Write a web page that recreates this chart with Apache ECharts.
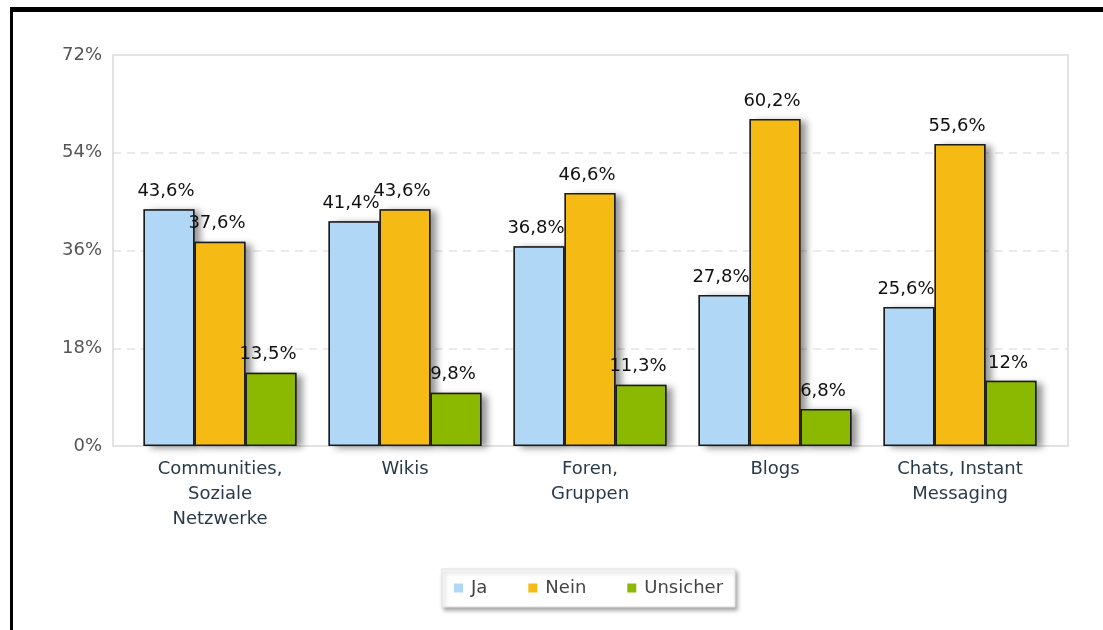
<!DOCTYPE html>
<html>
<head>
<meta charset="utf-8">
<script src="https://cdn.jsdelivr.net/npm/echarts@6/dist/echarts.min.js"></script>
<style>
  html, body { margin: 0; padding: 0; background: #fff; }
  #chart { width: 1103px; height: 630px; }
</style>
</head>
<body>
<div id="chart"></div>
<script>
// Survey answers per platform type (percent)
const categories = ['Communities,\nSoziale\nNetzwerke', 'Wikis', 'Foren,\nGruppen', 'Blogs', 'Chats, Instant\nMessaging'];
const seriesNames = ['Ja', 'Nein', 'Unsicher'];
const ja = [43.6, 41.4, 36.8, 27.8, 25.6];
const nein = [37.6, 43.6, 46.6, 60.2, 55.6];
const unsicher = [13.5, 9.8, 11.3, 6.8, 12];
const yTicks = { min: 0, max: 72, interval: 18 };

const colors = ['#b1d7f6', '#f5ba14', '#8bb800'];
const FONT = 'DejaVu Sans';
const BAR_W = 51;

const fmtPct = v => String(v).replace('.', ',') + '%';

const chart = echarts.init(document.getElementById('chart'), null, { renderer: 'canvas' });

// Flat bars with a thin dark outline and value label on top
function barSeries(name, data, color) {
  return {
    name: name,
    type: 'bar',
    xAxisIndex: 1,
    yAxisIndex: 1,
    z: 3,
    data: data,
    barWidth: BAR_W,
    barGap: '0%',
    itemStyle: {
      color: color,
      borderColor: '#1c1c1c',
      borderWidth: 1.5
    },
    label: {
      show: true,
      position: 'top',
      distance: 9,
      offset: [-3, 0],
      color: '#111',
      fontFamily: FONT,
      fontSize: 18,
      formatter: p => fmtPct(p.value)
    },
    emphasis: { disabled: true }
  };
}

// Drop shadow laid underneath each bar (same data, own hidden category axis)
function shadowSeries(data) {
  return {
    type: 'bar',
    xAxisIndex: 2,
    yAxisIndex: 1,
    z: 1,
    data: data,
    barWidth: BAR_W,
    barGap: '0%',
    silent: true,
    legendHoverLink: false,
    itemStyle: {
      color: 'rgba(0,0,0,0.6)',
      shadowBlur: 7,
      shadowOffsetX: 6,
      shadowOffsetY: 2,
      shadowColor: 'rgba(0,0,0,0.7)'
    },
    label: { show: false },
    emphasis: { disabled: true },
    tooltip: { show: false }
  };
}

chart.setOption({
  backgroundColor: '#fff',
  animation: false,
  textStyle: { fontFamily: FONT },
  graphic: [
    { type: 'rect', shape: { x: 10, y: 7, width: 1093, height: 5 }, style: { fill: '#000' }, silent: true },
    { type: 'rect', shape: { x: 10, y: 7, width: 3, height: 623 }, style: { fill: '#000' }, silent: true }
  ],
  legend: {
    data: seriesNames,
    left: 442,
    top: 569,
    padding: [10, 12, 10, 12],
    itemWidth: 9,
    itemHeight: 9,
    itemGap: 41,
    icon: 'rect',
    itemStyle: { borderWidth: 0, shadowBlur: 0, shadowOffsetX: 0, shadowOffsetY: 0 },
    backgroundColor: '#fff',
    borderColor: '#e0e0e0',
    borderWidth: 1,
    shadowBlur: 4,
    shadowOffsetX: 2,
    shadowOffsetY: 3,
    shadowColor: 'rgba(0,0,0,0.35)',
    textStyle: { color: '#444', fontSize: 18, fontFamily: FONT, padding: [0, 0, 0, 3] },
    selectedMode: false
  },
  grid: [
    // frame with gridlines and y labels
    { left: 113, right: 35, top: 55, bottom: 184, show: true, borderColor: '#d9d9d9', borderWidth: 1.5, backgroundColor: 'transparent' },
    // bar area
    { left: 127.5, right: 50.5, top: 55, bottom: 184 }
  ],
  xAxis: [
    { gridIndex: 0, type: 'value', show: false, min: 0, max: 1 },
    {
      gridIndex: 1,
      type: 'category',
      data: categories,
      axisLine: { show: false },
      axisTick: { show: false },
      axisLabel: {
        color: '#283a48',
        fontFamily: FONT,
        fontSize: 18,
        lineHeight: 25,
        margin: 11,
        interval: 0
      }
    },
    { gridIndex: 1, type: 'category', data: categories, show: false }
  ],
  yAxis: [
    {
      gridIndex: 0,
      type: 'value',
      min: yTicks.min,
      max: yTicks.max,
      interval: yTicks.interval,
      axisLine: { show: false },
      axisTick: { show: false },
      axisLabel: {
        color: '#555',
        fontFamily: FONT,
        fontSize: 18,
        margin: 11,
        formatter: '{value}%'
      },
      splitLine: { show: true, lineStyle: { color: '#e4e4e4', type: [8, 6], width: 1.5 } }
    },
    { gridIndex: 1, type: 'value', min: yTicks.min, max: yTicks.max, show: false }
  ],
  series: [
    shadowSeries(ja),
    shadowSeries(nein),
    shadowSeries(unsicher),
    barSeries(seriesNames[0], ja, colors[0]),
    barSeries(seriesNames[1], nein, colors[1]),
    barSeries(seriesNames[2], unsicher, colors[2])
  ]
});
</script>
</body>
</html>
